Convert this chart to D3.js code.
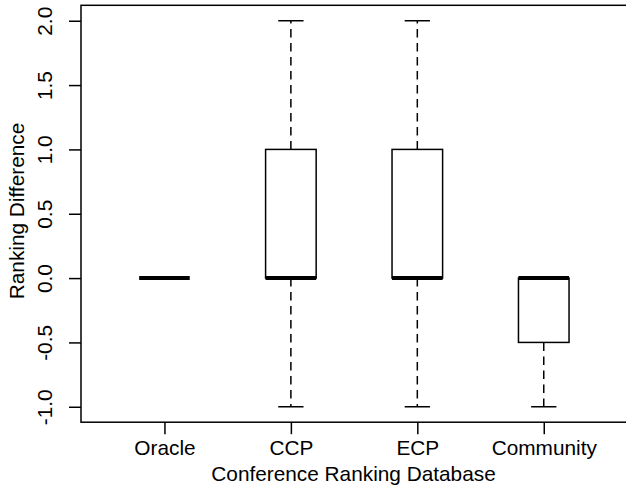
<!DOCTYPE html>
<html>
<head>
<meta charset="utf-8">
<script src="https://cdn.jsdelivr.net/npm/d3@7"></script>
<style>
  body { margin: 0; background: #fff; }
  svg text { font-family: "Liberation Sans", Arial, sans-serif; }
</style>
</head>
<body>
<div id="chart"></div>
<script>
// five-number summaries
const categories = ["Oracle", "CCP", "ECP", "Community"];
const lowWhisker = [0, -1, -1, -1];
const lowerQuart = [0, 0, 0, -0.5];
const medians = [0, 0, 0, 0];
const upperQuart = [0, 1, 1, 0];
const highWhisker = [0, 2, 2, 0];
const yTicks = [-1, -0.5, 0, 0.5, 1, 1.5, 2];

const width = 626;
const height = 487;
const fontSize = 20.8;

const svg = d3.select("#chart")
    .append("svg")
    .attr("width", width)
    .attr("height", height);

// R-style plot region (4% padding around data range)
const plot = { left: 81, right: 627.2, top: 5.3, bottom: 422.2 };

const x = d3.scaleLinear()
    .domain([0.34, 4.66])
    .range([plot.left, plot.right]);

const y = d3.scaleLinear()
    .domain([-1.12, 2.12])
    .range([plot.bottom, plot.top]);

const boxes = categories.map((c, i) => ({
    name: c,
    pos: i + 1,
    lo: lowWhisker[i],
    q1: lowerQuart[i],
    med: medians[i],
    q3: upperQuart[i],
    hi: highWhisker[i]
}));

const boxHalf = 0.2;
const stapleHalf = 0.1;

const g = svg.append("g");

// whiskers
g.selectAll("line.whisk-lo")
    .data(boxes)
    .enter().append("line")
    .attr("x1", d => x(d.pos)).attr("x2", d => x(d.pos))
    .attr("y1", d => y(d.q1)).attr("y2", d => y(d.lo))
    .attr("stroke", "#000")
    .attr("stroke-width", 1.5)
    .attr("stroke-dasharray", "8.5,5.5");

g.selectAll("line.whisk-hi")
    .data(boxes)
    .enter().append("line")
    .attr("x1", d => x(d.pos)).attr("x2", d => x(d.pos))
    .attr("y1", d => y(d.q3)).attr("y2", d => y(d.hi))
    .attr("stroke", "#000")
    .attr("stroke-width", 1.5)
    .attr("stroke-dasharray", "8.5,5.5");

// staples
["lo", "hi"].forEach(k => {
    g.selectAll("line.staple-" + k)
        .data(boxes)
        .enter().append("line")
        .attr("x1", d => x(d.pos - stapleHalf))
        .attr("x2", d => x(d.pos + stapleHalf))
        .attr("y1", d => y(d[k])).attr("y2", d => y(d[k]))
        .attr("stroke", "#000")
        .attr("stroke-width", 1.5);
});

// boxes
g.selectAll("rect.box")
    .data(boxes)
    .enter().append("rect")
    .attr("x", d => x(d.pos - boxHalf))
    .attr("width", d => x(d.pos + boxHalf) - x(d.pos - boxHalf))
    .attr("y", d => y(d.q3))
    .attr("height", d => y(d.q1) - y(d.q3))
    .attr("fill", "#fff")
    .attr("stroke", "#000")
    .attr("stroke-width", 1.5);

// medians
g.selectAll("line.median")
    .data(boxes)
    .enter().append("line")
    .attr("x1", d => x(d.pos - boxHalf))
    .attr("x2", d => x(d.pos + boxHalf))
    .attr("y1", d => y(d.med)).attr("y2", d => y(d.med))
    .attr("stroke", "#000")
    .attr("stroke-width", 4);

// frame
svg.append("rect")
    .attr("x", plot.left)
    .attr("y", plot.top)
    .attr("width", plot.right - plot.left)
    .attr("height", plot.bottom - plot.top)
    .attr("fill", "none")
    .attr("stroke", "#000")
    .attr("stroke-width", 1.5);

// --- axes ---
const yAxis = d3.axisLeft(y)
    .tickValues(yTicks)
    .tickFormat(d => d.toFixed(1))
    .tickSize(12);

const yg = svg.append("g")
    .attr("transform", `translate(${plot.left},0)`)
    .call(yAxis);
yg.select(".domain").remove();
yg.selectAll(".tick line").attr("stroke", "#000").attr("stroke-width", 1.5);
yg.selectAll(".tick text")
    .attr("x", 0)
    .attr("y", -29.5)
    .attr("dy", null)
    .attr("transform", "rotate(-90)")
    .attr("text-anchor", "middle")
    .attr("fill", "#000")
    .style("font-size", fontSize + "px");

const xAxis = d3.axisBottom(x)
    .tickValues(boxes.map(d => d.pos))
    .tickFormat((d, i) => categories[i])
    .tickSize(12);

const xg = svg.append("g")
    .attr("transform", `translate(0,${plot.bottom})`)
    .call(xAxis);
xg.select(".domain").remove();
xg.selectAll(".tick line").attr("stroke", "#000").attr("stroke-width", 1.5);
xg.selectAll(".tick text")
    .attr("y", 455 - plot.bottom)
    .attr("dy", null)
    .attr("fill", "#000")
    .style("font-size", fontSize + "px");

// axis titles
svg.append("text")
    .attr("x", 353.5)
    .attr("y", 481)
    .attr("text-anchor", "middle")
    .style("font-size", fontSize + "px")
    .text("Conference Ranking Database");

svg.append("text")
    .attr("transform", "translate(24,211) rotate(-90)")
    .attr("text-anchor", "middle")
    .style("font-size", fontSize + "px")
    .text("Ranking Difference");
</script>
</body>
</html>
